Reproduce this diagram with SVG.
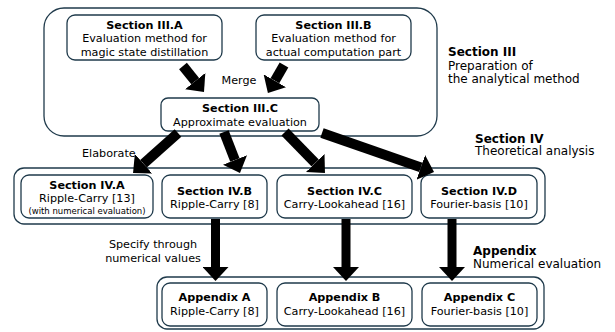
<svg xmlns="http://www.w3.org/2000/svg" width="615" height="332" viewBox="0 0 615 332">
<defs>
<style>
.box{fill:#fff;stroke:#1f3a4b;stroke-width:1.3}
.grp{fill:#fff;stroke:#1f3a4b;stroke-width:1.3}
text{font-family:"DejaVu Sans","Liberation Sans",sans-serif;font-size:11.2px;fill:#000}
.c{text-anchor:middle}
.b{font-weight:bold}
.s{font-size:8.5px}
.lbl{font-size:12px}
.arr{stroke:#000;stroke-width:10;fill:none;marker-end:url(#ah)}
.varr{stroke:#000;stroke-width:9;fill:none;marker-end:url(#ah)}
</style>
<marker id="ah" markerUnits="userSpaceOnUse" viewBox="0 0 14 26" markerWidth="14" markerHeight="26" refX="0" refY="13" orient="auto">
<path d="M0,0 L14,13 L0,26 z" fill="#000"/>
</marker>
</defs>
<rect width="615" height="332" fill="#fff"/>

<g id="section-III">
<rect class="grp" x="44" y="8" width="393" height="128" rx="20"/>
<text x="448" y="56" class="b lbl">Section III</text>
<text x="448" y="69.5" class="lbl">Preparation of</text>
<text x="448" y="82.5" class="lbl">the analytical method</text>
</g>
<g id="section-IV">
<rect class="grp" x="14" y="168" width="531" height="56" rx="10"/>
<text x="475" y="142.5" class="b lbl">Section IV</text>
<text x="475" y="155" class="lbl">Theoretical analysis</text>
</g>
<g id="appendix">
<rect class="grp" x="157" y="277" width="387" height="52" rx="10"/>
<text x="473" y="255" class="b lbl">Appendix</text>
<text x="473" y="267.5" class="lbl">Numerical evaluation</text>
</g>

<g id="III.A">
<rect class="box" x="67" y="15" width="155" height="45" rx="8"/>
<text x="144.5" y="29" class="c b">Section III.A</text>
<text x="144.5" y="42" class="c">Evaluation method for</text>
<text x="144.5" y="56" class="c">magic state distillation</text>
</g>
<g id="III.B">
<rect class="box" x="256" y="15" width="155" height="45" rx="8"/>
<text x="333.5" y="29" class="c b">Section III.B</text>
<text x="333.5" y="42" class="c">Evaluation method for</text>
<text x="333.5" y="56" class="c">actual computation part</text>
</g>
<g id="III.C">
<rect class="box" x="161" y="98" width="158" height="33" rx="7"/>
<text x="240" y="112" class="c b">Section III.C</text>
<text x="240" y="126" class="c">Approximate evaluation</text>
</g>

<g id="IV.A">
<rect class="box" x="21" y="175" width="132" height="43" rx="8"/>
<text x="87" y="189" class="c b">Section IV.A</text>
<text x="87" y="202" class="c">Ripple-Carry [13]</text>
<text x="87" y="214" class="c s">(with numerical evaluation)</text>
</g>
<g id="IV.B">
<rect class="box" x="162" y="175" width="105" height="43" rx="8"/>
<text x="214.5" y="195" class="c b">Section IV.B</text>
<text x="214.5" y="208" class="c">Ripple-Carry [8]</text>
</g>
<g id="IV.C">
<rect class="box" x="277" y="175" width="135" height="43" rx="8"/>
<text x="344.5" y="195" class="c b">Section IV.C</text>
<text x="344.5" y="208" class="c">Carry-Lookahead [16]</text>
</g>
<g id="IV.D">
<rect class="box" x="421" y="175" width="116" height="43" rx="8"/>
<text x="479" y="195" class="c b">Section IV.D</text>
<text x="479" y="208" class="c">Fourier-basis [10]</text>
</g>

<g id="App.A">
<rect class="box" x="162" y="283" width="105" height="43" rx="8"/>
<text x="214.5" y="301" class="c b">Appendix A</text>
<text x="214.5" y="315" class="c">Ripple-Carry [8]</text>
</g>
<g id="App.B">
<rect class="box" x="277" y="283" width="135" height="43" rx="8"/>
<text x="344.5" y="301" class="c b">Appendix B</text>
<text x="344.5" y="315" class="c">Carry-Lookahead [16]</text>
</g>
<g id="App.C">
<rect class="box" x="422" y="283" width="115" height="43" rx="8"/>
<text x="479.5" y="301" class="c b">Appendix C</text>
<text x="479.5" y="315" class="c">Fourier-basis [10]</text>
</g>

<g id="connectors">
<line class="arr" x1="183" y1="66" x2="195.2" y2="81.1"/>
<line class="arr" x1="284" y1="65" x2="274.9" y2="80.8"/>
<line class="arr" x1="178" y1="133" x2="143.5" y2="163.7"/>
<line class="arr" x1="224" y1="132" x2="234.9" y2="160"/>
<line class="arr" x1="285" y1="132" x2="315.2" y2="163"/>
<line class="arr" x1="322" y1="133" x2="420.8" y2="167.4"/>
<line class="varr" x1="215.5" y1="219" x2="215.5" y2="267"/>
<line class="varr" x1="346" y1="219" x2="346" y2="267"/>
<line class="varr" x1="452" y1="219" x2="452" y2="267"/>
<text x="239" y="84" class="c">Merge</text>
<text x="82" y="157">Elaborate</text>
<text x="153" y="248" class="c">Specify through</text>
<text x="153" y="262" class="c">numerical values</text>
</g>
</svg>
